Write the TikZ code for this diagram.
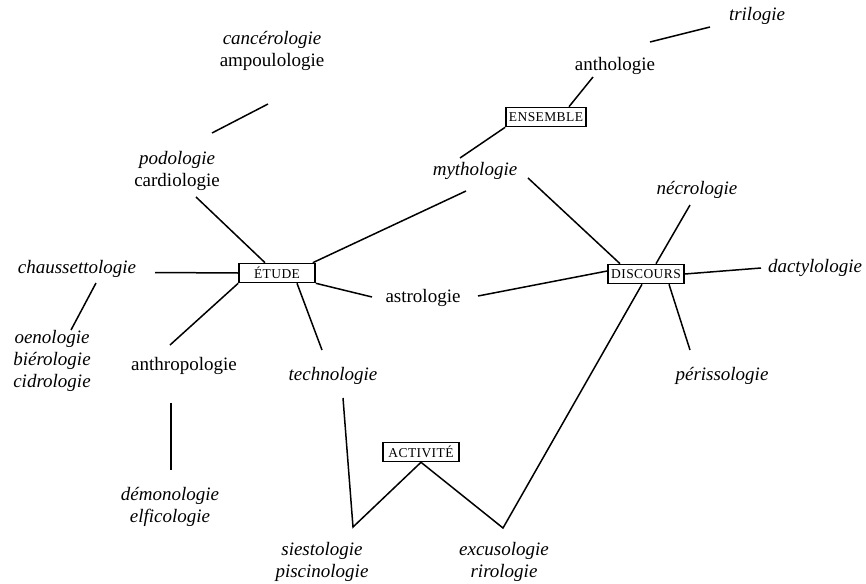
\documentclass[tikz,border=0pt]{standalone}
\usepackage{fontspec}
\setmainfont{Liberation Serif}
\newfontfamily\capsfont[LetterSpace=3]{Liberation Serif}

\begin{document}
\begin{tikzpicture}[x=1pt,y=-1pt,
    word/.style={inner sep=0pt,align=center,font=\fontsize{19}{22}\selectfont},
    iword/.style={word,font=\fontsize{19}{22}\selectfont\itshape},
    lbox/.style={draw,line width=1.6pt,inner xsep=3pt,inner ysep=2pt,
                 minimum width=76pt,minimum height=19pt,
                 font=\capsfont\fontsize{13.5}{15}\selectfont},
    link/.style={line width=1.5pt}]
  \useasboundingbox (0,0) rectangle (866,583);

  \node[iword] (tril) at (757,16) {trilogie};
  \node[word] (antho) at (615,66) {anthologie};
  \node[lbox] (ensemble) at (546,117) {ENSEMBLE};
  \node[iword] (mytho) at (475,171) {mythologie};
  \node[word] (cancero) at (272,51) {\textit{cancérologie}\\ampoulologie};
  \node[word] (podo) at (177,171) {\textit{podologie}\\cardiologie};
  \node[lbox] (etude) at (277,273) {ÉTUDE};
  \node[iword] (chauss) at (77,269) {chaussettologie};
  \node[iword] (oeno) at (52,361) {oenologie\\biérologie\\cidrologie};
  \node[word] (anthropo) at (184,366) {anthropologie};
  \node[iword] (demono) at (170,507) {démonologie\\elficologie};
  \node[iword] (techno) at (333,376) {technologie};
  \node[word] (astro) at (423,298) {astrologie};
  \node[lbox] (discours) at (646,274) {DISCOURS};
  \node[iword] (necro) at (697,190) {nécrologie};
  \node[iword] (dactylo) at (815,268) {dactylologie};
  \node[iword] (periss) at (722,376) {périssologie};
  \node[lbox] (activite) at (421,452) {ACTIVITÉ};
  \node[iword] (siesta) at (322,562) {siestologie\\piscinologie};
  \node[iword] (excus) at (504,562) {excusologie\\rirologie};

  \coordinate (vL) at (353,527);
  \coordinate (vR) at (503,528);

  \draw[link] ([shift={(35,-24)}]antho.center) -- ([shift={(-47,11)}]tril.center);
  \draw[link] ([xshift=23pt]ensemble.north) -- ([shift={(-22,11)}]antho.center);
  \draw[link] (ensemble.south west) -- ([shift={(-15,-13)}]mytho.center);
  \draw[link] ([shift={(53,7)}]mytho.center) -- ([xshift=-26pt]discours.north);
  \draw[link] ([shift={(-9,20)}]mytho.center) -- ([xshift=-3pt]etude.north east);
  \draw[link] ([shift={(-4,53)}]cancero.center) -- ([shift={(35,-38)}]podo.center);
  \draw[link] ([shift={(19,26)}]podo.center) -- ([xshift=-12pt]etude.north);
  \draw[link] ([shift={(78,3.5)}]chauss.center) -- (etude.west);
  \draw[link] ([shift={(19,14)}]chauss.center) -- ([shift={(19,-31)}]oeno.center);
  \draw[link] (etude.south west) -- ([shift={(-14,-21)}]anthropo.center);
  \draw[link] ([shift={(-13,37)}]anthropo.center) -- ([shift={(1,-37)}]demono.center);
  \draw[link] ([xshift=20pt]etude.south) -- ([shift={(-11,-26)}]techno.center);
  \draw[link] (etude.south east) -- ([shift={(-51,-1)}]astro.center);
  \draw[link] ([shift={(55,-2)}]astro.center) -- ([yshift=3pt]discours.west);
  \draw[link] ([shift={(-7,15)}]necro.center) -- ([xshift=10pt]discours.north);
  \draw[link] (discours.east) -- ([shift={(-54,0)}]dactylo.center);
  \draw[link] ([xshift=23pt]discours.south) -- ([shift={(-32,-26)}]periss.center);
  \draw[link] ([shift={(10,22)}]techno.center) -- (vL) -- (activite.south)
    -- (vR) -- ([xshift=-4pt]discours.south);
\end{tikzpicture}
\end{document}
